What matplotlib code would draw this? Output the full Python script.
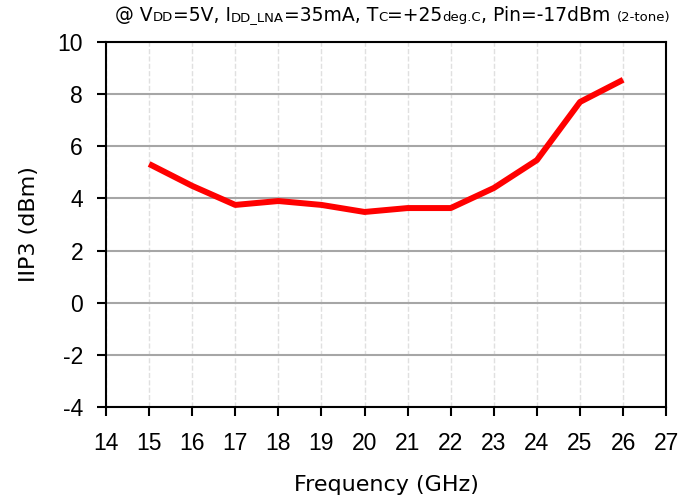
import matplotlib
matplotlib.use("Agg")
import matplotlib.pyplot as plt
from matplotlib.offsetbox import TextArea, HPacker, AnchoredOffsetbox

freq = [15, 16, 17, 18, 19, 20, 21, 22, 23, 24, 25, 26]
iip3 = [5.32, 4.48, 3.75, 3.9, 3.75, 3.48, 3.63, 3.63, 4.4, 5.47, 7.7, 8.55]
xticks = list(range(14, 28))
yticks = list(range(-4, 11, 2))

plt.rcParams['font.family'] = ['DejaVu Sans']
fig = plt.figure(figsize=(6.84, 5.04), dpi=100)
ax = fig.add_axes([0.155, 0.1925, 0.819, 0.7242])

ax.plot(freq, iip3, color='#ff0000', lw=4.3, solid_capstyle='butt', zorder=3)
ax.set_xlim(14, 27)
ax.set_ylim(-4, 10)
ax.set_xticks(xticks)
ax.set_yticks(yticks)
tickfont = dict(fontsize=16.5, family=['Liberation Sans', 'DejaVu Sans'])
ax.set_xticklabels([str(t) for t in xticks], **tickfont)
ax.set_yticklabels([str(t) for t in yticks], **tickfont)
ax.tick_params(direction='out', length=6.5, width=1.5)
ax.tick_params(axis='y', pad=10)
ax.tick_params(axis='x', pad=11.5)
ax.grid(axis='y', color='#a6a6a6', lw=1.5, ls='-')
ax.grid(axis='x', color='#e0e0e0', lw=1.0, ls='--')
ax.set_axisbelow(True)
for s in ax.spines.values():
    s.set_linewidth(1.5)
    s.set_color('black')
ax.set_xlabel('Frequency (GHz)', fontsize=16)
ax.set_ylabel('IIP3 (dBm)', fontsize=16)
ax.xaxis.set_label_coords(0.5, -0.185)
ax.yaxis.set_label_coords(-0.12, 0.5)

big = dict(size=13.5, color='black')
small = dict(size=9.5, color='black')
parts = [("@ V", big), ("DD", small), ("=5V, I", big), ("DD_LNA", small),
         ("=35mA, T", big), ("C", small), ("=+25", big), ("deg.C", small),
         (", Pin=-17dBm ", big), ("(2-tone)", small)]
areas = [TextArea(t, textprops=p) for t, p in parts]
box = HPacker(children=areas, align="baseline", pad=0, sep=0)
anch = AnchoredOffsetbox(loc='lower right', child=box, pad=0, frameon=False,
                         bbox_to_anchor=(0.98, 0.951), bbox_transform=fig.transFigure,
                         borderpad=0)
fig.add_artist(anch)

fig.savefig('out.png', dpi=100)
